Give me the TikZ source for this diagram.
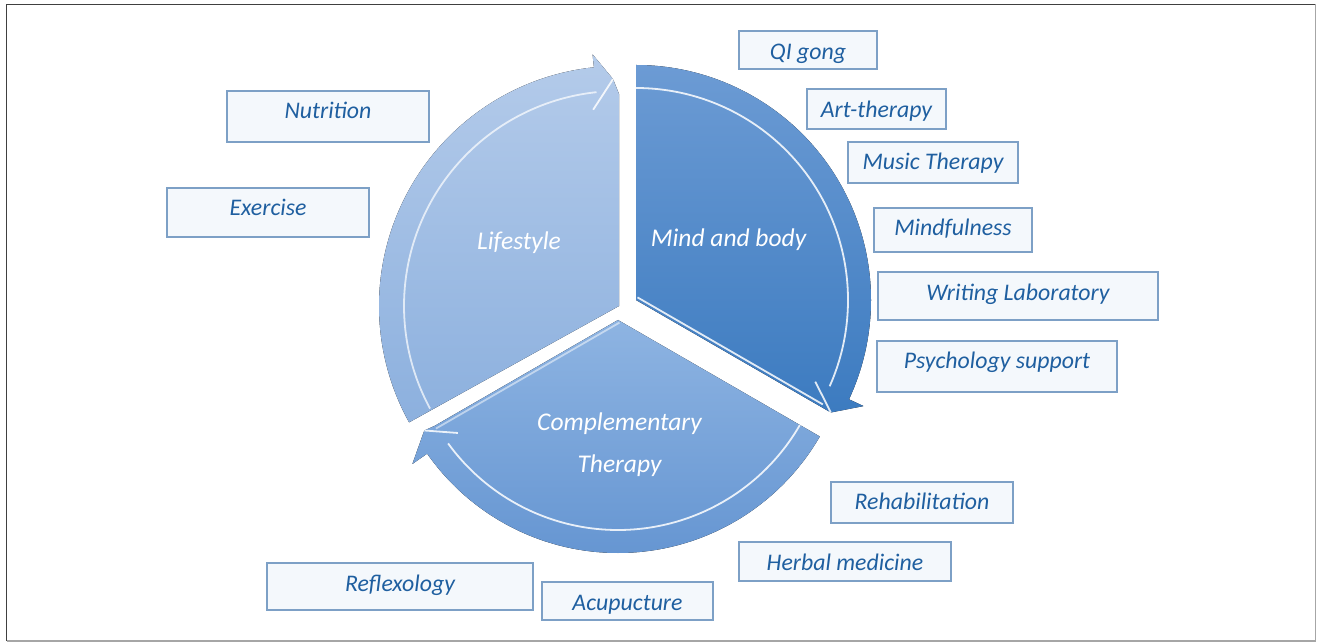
\documentclass[tikz,border=0pt]{standalone}
\usepackage{fontspec}
\setmainfont{Carlito}

\definecolor{lsTop}{RGB}{180,203,234}
\definecolor{lsBot}{RGB}{140,176,222}
\definecolor{mbTop}{RGB}{108,155,212}
\definecolor{mbBot}{RGB}{60,123,192}
\definecolor{ctTop}{RGB}{142,180,226}
\definecolor{ctBot}{RGB}{102,150,210}
\definecolor{itemline}{RGB}{125,160,198}
\definecolor{itemfill}{RGB}{244,248,252}
\definecolor{itemtext}{RGB}{31,95,160}

\tikzset{
  item/.style={draw=itemline, fill=itemfill, line width=1.2pt, text=itemtext,
    inner sep=0pt, text depth=5pt, font=\fontsize{23.8}{28}\selectfont\itshape},
  seglabel/.style={text=white, align=center, anchor=base,
    font=\fontsize{25.5}{42}\selectfont\itshape},
  shine/.style={white, line width=1.8pt, opacity=.85},
}

\begin{document}
\begin{tikzpicture}[x=1pt,y=1pt]
        \useasboundingbox (0,0) rectangle (1317,643);
        \draw[black!75, line width=1.6pt] (6.5,2) -- (6.5,638.5) -- (1315.5,638.5);
        \draw[black!35, line width=1.6pt] (6.5,2) -- (1315.5,2) -- (1315.5,638.5);

        % Lifestyle
        \begin{scope}[shift={(619,337)}]
            \fill[top color=lsTop, bottom color=lsBot] (0,0) -- (209:240)
                arc[start angle=209, end angle=96, radius=240]
                -- (96:253) -- (91.5:227) -- (90:212) -- cycle;
            \draw[shine, opacity=.7] (208.5:215) arc[start angle=208.5, end angle=96, radius=215];
            \draw[shine] (97.5:198) -- (91.5:227);
        \end{scope}

        % Mind and body
        \begin{scope}[shift={(636,343)}]
            \fill[top color=mbTop, bottom color=mbBot] (0,0) -- (90:235)
                arc[start angle=90, end angle=-25, radius=235]
                -- (-25:251) -- (-30:225) -- (-30:212) -- cycle;
            \draw[shine] (90:212) arc[start angle=90, end angle=-24, radius=212];
            \draw[shine] (-24.5:197) -- (-30:225);
            \draw[shine, shift={(60:3)}] (0,0) -- (-30:214);
        \end{scope}

        % Complementary Therapy
        \begin{scope}[shift={(618,323)}]
            \fill[top color=ctTop, bottom color=ctBot] (0,0) -- (-30:233)
                arc[start angle=-30, end angle=-145, radius=233]
                -- (-145:251) -- (-150.3:223) -- (-150:212) -- cycle;
            \draw[shine] (-30:210) arc[start angle=-30, end angle=-144, radius=210];
            \draw[shine] (-144.8:196) -- (-150.3:223);
            \draw[shine, opacity=.5, shift={(-60:3)}] (0,0) -- (-150:212);
        \end{scope}

        \node[seglabel] (life) at (519,393.7) {Lifestyle};
        \node[seglabel] (mind) at (728.5,396.3) {Mind and body};
        \node[seglabel] (comp) at (619.5,170.3) {Complementary\\Therapy};

        \node[item, text height=23.6pt, minimum width=138pt, minimum height=38pt] (qigong) at (808,593) {QI gong};
        \node[item, text height=21.8pt, minimum width=139pt, minimum height=40pt] (art) at (876.5,534) {Art-therapy};
        \node[item, text height=18.6pt, minimum width=170pt, minimum height=41pt] (music) at (933,480.5) {Music Therapy};
        \node[item, text height=17pt, minimum width=158pt, minimum height=44pt] (mindful) at (953,413) {Mindfulness};
        \node[item, text height=14.4pt, minimum width=280pt, minimum height=48pt] (writing) at (1018,347) {Writing Laboratory};
        \node[item, text height=9.6pt, minimum width=240pt, minimum height=51pt] (psych) at (997,276.5) {Psychology support};
        \node[item, text height=19.2pt, minimum width=182pt, minimum height=41pt] (rehab) at (922,140.5) {Rehabilitation};
        \node[item, text height=22.4pt, minimum width=212pt, minimum height=39pt] (herbal) at (845,81.5) {Herbal medicine};
        \node[item, text height=23.4pt, minimum width=171pt, minimum height=38pt] (acu) at (627.5,42) {Acupucture};
        \node[item, text height=15pt, minimum width=266pt, minimum height=47pt] (reflex) at (400,56.5) {Reflexology};
        \node[item, text height=9pt, minimum width=202pt, minimum height=51pt] (nutri) at (328,526.5) {Nutrition};
        \node[item, text height=12pt, minimum width=202pt, minimum height=49pt] (exer) at (268,430.5) {Exercise};
    \end{tikzpicture}
\end{document}
